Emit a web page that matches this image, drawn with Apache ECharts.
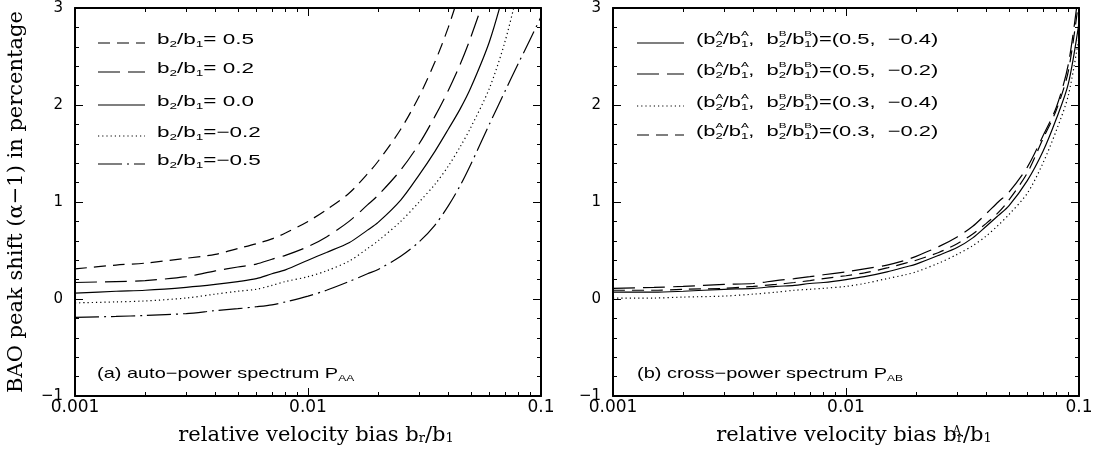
<!DOCTYPE html>
<html>
<head>
<meta charset="utf-8">
<script src="https://cdn.jsdelivr.net/npm/echarts@6/dist/echarts.min.js"></script>
<style>
html,body{margin:0;padding:0;background:#fff}
#chart{width:1101px;height:457px}
</style>
</head>
<body>
<div id="chart"></div>
<script>
// relative velocity bias values shared by all curves
var biasGrid = [0.001, 0.0015, 0.002, 0.003, 0.004, 0.005, 0.006, 0.007, 0.008, 0.01, 0.012, 0.015, 0.018, 0.02, 0.025, 0.03, 0.035, 0.04, 0.045, 0.05, 0.06, 0.07, 0.08, 0.09, 0.1];

// (a) auto-power spectrum, one array per b2/b1
var autoP05 = [0.31, 0.35, 0.37, 0.42, 0.46, 0.52, 0.57, 0.62, 0.68, 0.80, 0.92, 1.09, 1.29, 1.42, 1.75, 2.09, 2.44, 2.80, 3.18, null, null, null, null, null, null];
var autoP02 = [0.17, 0.18, 0.19, 0.23, 0.29, 0.33, 0.36, 0.41, 0.45, 0.54, 0.64, 0.80, 0.97, 1.07, 1.33, 1.60, 1.88, 2.15, 2.42, 2.70, 3.25, null, null, null, null];
var autoZero = [0.06, 0.08, 0.09, 0.12, 0.15, 0.18, 0.21, 0.26, 0.30, 0.40, 0.48, 0.58, 0.71, 0.79, 1.02, 1.28, 1.52, 1.75, 1.96, 2.18, 2.65, 3.20, null, null, null];
var autoM02 = [-0.04, -0.03, -0.02, 0.01, 0.05, 0.08, 0.10, 0.14, 0.18, 0.23, 0.29, 0.39, 0.52, 0.60, 0.80, 1.00, 1.18, 1.37, 1.57, 1.77, 2.17, 2.65, 3.20, null, null];
var autoM05 = [-0.19, -0.18, -0.17, -0.15, -0.12, -0.10, -0.08, -0.06, -0.03, 0.03, 0.09, 0.18, 0.26, 0.305, 0.44, 0.59, 0.76, 0.96, 1.17, 1.39, 1.80, 2.14, 2.43, 2.68, 2.91];

// (b) cross-power spectrum, one array per (b2A/b1A, b2B/b1B)
var cross05m04 = [0.07, 0.07, 0.08, 0.10, 0.11, 0.13, 0.14, 0.16, 0.17, 0.20, 0.23, 0.28, 0.33, 0.36, 0.45, 0.53, 0.63, 0.75, 0.86, 0.96, 1.22, 1.52, 1.86, 2.22, 2.85];
var cross05m02 = [0.11, 0.12, 0.13, 0.15, 0.16, 0.19, 0.21, 0.23, 0.25, 0.28, 0.31, 0.35, 0.40, 0.44, 0.54, 0.64, 0.75, 0.88, 1.00, 1.10, 1.36, 1.68, 1.98, 2.42, 3.20];
var cross03m04 = [0.01, 0.01, 0.02, 0.03, 0.05, 0.07, 0.09, 0.10, 0.11, 0.13, 0.16, 0.21, 0.25, 0.28, 0.37, 0.46, 0.55, 0.65, 0.76, 0.87, 1.09, 1.40, 1.74, 2.10, 2.70];
var cross03m02 = [0.09, 0.09, 0.10, 0.11, 0.13, 0.15, 0.17, 0.19, 0.21, 0.24, 0.27, 0.32, 0.37, 0.40, 0.48, 0.57, 0.67, 0.78, 0.89, 1.02, 1.30, 1.65, 1.95, 2.35, 3.10];

var majorX = [0.001, 0.01, 0.1];
var minorX = [0.002, 0.003, 0.004, 0.005, 0.006, 0.007, 0.008, 0.009, 0.02, 0.03, 0.04, 0.05, 0.06, 0.07, 0.08, 0.09];

var autoLabels = ['b{s|2}/b{s|1}= 0.5', 'b{s|2}/b{s|1}= 0.2', 'b{s|2}/b{s|1}= 0.0', 'b{s|2}/b{s|1}=\u22120.2', 'b{s|2}/b{s|1}=\u22120.5'];
var crossLabels = [
  '(b{u|A}{s|2}/b{u|A}{s|1},  b{u|B}{s|2}/b{u|B}{s|1})=(0.5,  \u22120.4)',
  '(b{u|A}{s|2}/b{u|A}{s|1},  b{u|B}{s|2}/b{u|B}{s|1})=(0.5,  \u22120.2)',
  '(b{u|A}{s|2}/b{u|A}{s|1},  b{u|B}{s|2}/b{u|B}{s|1})=(0.3,  \u22120.4)',
  '(b{u|A}{s|2}/b{u|A}{s|1},  b{u|B}{s|2}/b{u|B}{s|1})=(0.3,  \u22120.2)'
];

var DASH = [12, 7], LONG = [22, 8], DOT = [1.2, 3], DASHDOT = [24, 5, 2, 5];
var SANS = 'Liberation Sans', TICKF = 'DejaVu Sans', SERIF = 'DejaVu Serif';

function rich(size, fam) {
  return {
    s: {fontSize: Math.round(size * 0.62), fontFamily: fam, lineHeight: 8, verticalAlign: 'bottom', padding: [0, 0, 6, 0]},
    u: {fontSize: Math.round(size * 0.55), fontFamily: fam, lineHeight: 8, verticalAlign: 'top', width: 0, padding: [5, 0, 0, 0]}
  };
}

function pts(vals) {
  var out = [];
  for (var i = 0; i < biasGrid.length; i++) {
    if (vals[i] != null) out.push([biasGrid[i], vals[i]]);
  }
  return out;
}

function line(vals, dash, g) {
  return {
    type: 'line', xAxisIndex: g * 4, yAxisIndex: g * 2,
    data: pts(vals), symbol: 'none', silent: true, clip: true, smooth: 0.3,
    lineStyle: {color: '#000', width: 1.2, type: dash}
  };
}

function xAxes(g, title) {
  var base = {gridIndex: g, type: 'log', logBase: 10, min: 0.001, max: 0.1, splitLine: {show: false}};
  var tick = {inside: true, lineStyle: {color: '#000', width: 1}};
  var noLine = {show: false, onZero: false};
  var frame = {show: true, onZero: false, lineStyle: {color: '#000', width: 2}};
  return [
    Object.assign({}, base, {
      position: 'bottom', axisLine: frame,
      axisTick: Object.assign({}, tick, {length: 8, customValues: majorX}),
      axisLabel: {customValues: majorX, color: '#000', fontSize: 17, fontFamily: TICKF, margin: 3,
        formatter: function (v) { return v < 0.005 ? '0.001' : v < 0.05 ? '0.01' : '0.1'; }},
      name: title, nameLocation: 'middle', nameGap: 20,
      nameTextStyle: {color: '#000', fontSize: 21, fontFamily: SERIF, lineHeight: 30, padding: [0, 0, 0, 16], rich: rich(21, SERIF)}
    }),
    Object.assign({}, base, {position: 'bottom', axisLine: noLine,
      axisTick: Object.assign({}, tick, {length: 4, customValues: minorX}), axisLabel: {show: false}}),
    Object.assign({}, base, {position: 'top', axisLine: frame,
      axisTick: Object.assign({}, tick, {length: 8, customValues: majorX}), axisLabel: {show: false}}),
    Object.assign({}, base, {position: 'top', axisLine: noLine,
      axisTick: Object.assign({}, tick, {length: 4, customValues: minorX}), axisLabel: {show: false}})
  ];
}

function yAxes(g, title) {
  var base = {
    gridIndex: g, type: 'value', min: -1, max: 3, interval: 1, splitLine: {show: false},
    axisLine: {show: true, onZero: false, lineStyle: {color: '#000', width: 2}},
    axisTick: {inside: true, length: 8, lineStyle: {color: '#000', width: 1}},
    minorTick: {show: true, splitNumber: 5, length: 4, lineStyle: {color: '#000', width: 1}}
  };
  var left = Object.assign({}, base, {
    position: 'left',
    axisLabel: {color: '#000', fontSize: 15, fontFamily: TICKF, margin: 12,
      formatter: function (v) { return v < 0 ? '\u2212' + Math.abs(v) : String(v); }}
  });
  if (title) {
    left.name = title; left.nameLocation = 'middle'; left.nameGap = 48;
    left.nameTextStyle = {color: '#000', fontSize: 21, fontFamily: SERIF};
  }
  var right = Object.assign({}, base, {position: 'right', axisLabel: {show: false}});
  return [left, right];
}

var graphics = [];
function legendRow(x, y, dash, text, scale) {
  graphics.push({type: 'line', shape: {x1: x, y1: y, x2: x + 47, y2: y}, silent: true,
    style: {stroke: '#000', lineWidth: 1.2, lineDash: dash}});
  graphics.push({type: 'text', x: x + 59, y: y - 3, scaleX: scale, silent: true,
    style: {text: text, fill: '#000', font: '15px ' + SANS, lineHeight: 30, verticalAlign: 'middle', rich: rich(15, SANS)}});
}
var autoDash = [DASH, LONG, null, DOT, DASHDOT];
var autoRows = [43, 72, 105, 136, 164];
autoLabels.forEach(function (t, i) { legendRow(98, autoRows[i], autoDash[i], t, 1.5); });
var crossDash = [null, LONG, DOT, DASH];
var crossRows = [43, 74, 106, 135];
crossLabels.forEach(function (t, i) { legendRow(637, crossRows[i], crossDash[i], t, 1.46); });

graphics.push({type: 'text', x: 97, y: 374, scaleX: 1.33, silent: true,
  style: {text: '(a) auto\u2212power spectrum P{s|AA}', fill: '#000', font: '15px ' + SANS, lineHeight: 30, verticalAlign: 'middle', rich: rich(15, SANS)}});
graphics.push({type: 'text', x: 637, y: 374, scaleX: 1.33, silent: true,
  style: {text: '(b) cross\u2212power spectrum P{s|AB}', fill: '#000', font: '15px ' + SANS, lineHeight: 30, verticalAlign: 'middle', rich: rich(15, SANS)}});

var chart = echarts.init(document.getElementById('chart'), null, {renderer: 'canvas'});
chart.setOption({
  backgroundColor: '#fff',
  animation: false,
  grid: [
    {left: 75, top: 8, width: 466, height: 388},
    {left: 613, top: 8, width: 466, height: 388}
  ],
  xAxis: xAxes(0, 'relative velocity bias b{s|r}/b{s|1}').concat(xAxes(1, 'relative velocity bias b{u|A}{s|r}/b{s|1}')),
  yAxis: yAxes(0, 'BAO peak shift (\u03b1\u22121) in percentage').concat(yAxes(1, null)),
  series: [
    line(autoP05, DASH, 0), line(autoP02, LONG, 0), line(autoZero, 'solid', 0), line(autoM02, DOT, 0), line(autoM05, DASHDOT, 0),
    line(cross05m04, 'solid', 1), line(cross05m02, LONG, 1), line(cross03m04, DOT, 1), line(cross03m02, DASH, 1)
  ],
  graphic: graphics
});
</script>
</body>
</html>
